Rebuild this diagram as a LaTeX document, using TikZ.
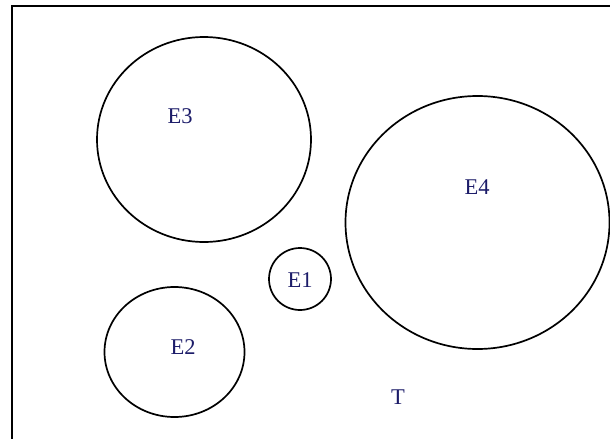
\documentclass[tikz,border=0pt]{standalone}
\usepackage{fontspec}
\setmainfont{Liberation Serif}
\definecolor{setlabel}{RGB}{28,28,105}

\begin{document}
\begin{tikzpicture}
[
	x=1pt,
	y=-1pt,
	setline/.style={draw,line width=1.7pt},
	setname/.style={text=setlabel,font=\fontsize{22.5}{27}\selectfont,inner sep=0pt}
]

	\useasboundingbox (0,0) rectangle (610,439);

	% frame of T (only top and left edge are in view)
	\draw[line width=2.2pt] (610,6) -- (12,6) -- (12,439);

	% the sets
	\draw[setline] (204,139.5) ellipse (107 and 102.5);
	\draw[setline] (477.5,222.5) ellipse (132 and 126.5);
	\draw[setline] (300,279) circle (31);
	\draw[setline] (174.5,352) ellipse (70 and 65);

	% names
	\node[setname] (e3) at (180,116) {E3};
	\node[setname] (e4) at (477,187) {E4};
	\node[setname] (e1) at (300,280) {E1};
	\node[setname] (e2) at (183,347) {E2};
	\node[setname] (t) at (398,397) {T};

\end{tikzpicture}
\end{document}
